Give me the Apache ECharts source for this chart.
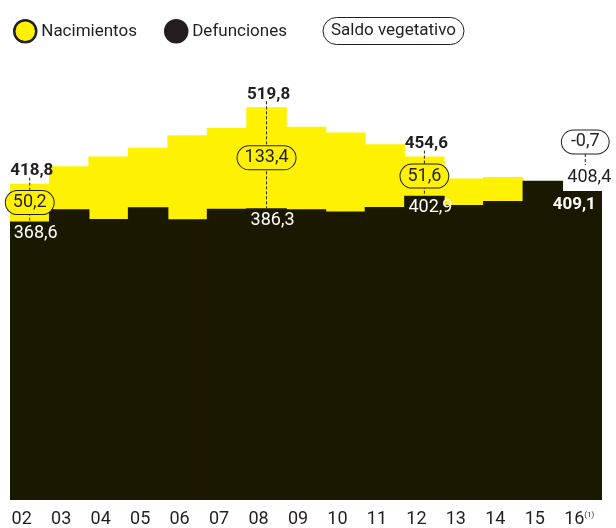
<!DOCTYPE html>
<html>
<head>
<meta charset="utf-8">
<script src="https://cdn.jsdelivr.net/npm/echarts@6/dist/echarts.min.js"></script>
<style>
  html, body { margin: 0; padding: 0; background: #fff; }
  #chart { width: 616px; height: 528px; }
</style>
</head>
<body>
<div id="chart"></div>
<script>
var myChart = echarts.init(document.getElementById('chart'));

let years = ['02', '03', '04', '05', '06', '07', '08', '09', '10', '11', '12', '13', '14', '15', '16'];
let nacimientos = [418.8, 441.9, 454.6, 466.4, 482.9, 492.5, 519.8, 494.0, 486.6, 471.0, 454.6, 425.7, 427.6, 420.3, 408.4];
let defunciones = [368.6, 384.8, 371.9, 387.4, 371.5, 385.4, 386.3, 384.9, 382.0, 387.9, 402.9, 390.4, 395.8, 422.6, 409.1];
// years with call-outs and their saldo vegetativo
let saldoYears = ['02', '08', '12', '16'];
let saldo = [50.2, 133.4, 51.6, -0.7];

let yellow = '#fff200';
let dark = '#1b1800';
let ink = '#231f20';
let font = 'Roboto';

const fmt = v => v.toFixed(1).replace('.', ',');

let saldoData = saldoYears.map((y, k) => {
	let i = years.indexOf(y);
	return [y, nacimientos[i], defunciones[i], saldo[k]];
});

function label(text, x, y, opts) {
	return {
		type: 'text',
		x: x,
		y: y,
		z2: 10,
		style: Object.assign({
			text: text,
			fontFamily: font,
			fontSize: 18,
			fill: ink,
			align: 'center'
		}, opts)
	};
}

function renderSaldo(params, api) {
	let b = api.value(1), d = api.value(2), s = api.value(3);
	let x = api.coord([api.value(0), 0])[0];
	let yB = api.coord([api.value(0), b])[1];
	let yD = api.coord([api.value(0), d])[1];
	let children = [];
	if (s > 0) {
		children.push({
			type: 'line',
			shape: { x1: x, y1: yB - 6, x2: x, y2: yD },
			style: { stroke: ink, lineWidth: 1, lineDash: [3, 2] }
		});
		children.push(label(fmt(s), x, (yB + yD) / 2, {
			verticalAlign: 'middle', backgroundColor: yellow,
			borderColor: ink, borderWidth: 1, borderRadius: 12, padding: [3, 7, 2, 7]
		}));
		children.push(label(fmt(b), x + 2, yB - 4, {
			verticalAlign: 'bottom', fontWeight: b > d ? 'bold' : 'normal', fontSize: 17
		}));
		children.push(label(fmt(d), x + 6, yD + 3, {
			verticalAlign: 'top', fill: '#fff', fontWeight: d > b ? 'bold' : 'normal'
		}));
	} else {
		let yTop = Math.min(yB, yD);
		children.push({
			type: 'line',
			shape: { x1: x + 3, y1: yTop - 37, x2: x + 3, y2: yTop - 26 },
			style: { stroke: ink, lineWidth: 1, lineDash: [3, 2] }
		});
		children.push(label(fmt(s), x + 3, yTop - 49, {
			verticalAlign: 'middle', backgroundColor: '#fff',
			borderColor: ink, borderWidth: 1, borderRadius: 12, padding: [3, 9, 2, 9]
		}));
		children.push(label(fmt(b), x + 7, yTop - 4, {
			verticalAlign: 'bottom', fontWeight: b > d ? 'bold' : 'normal'
		}));
		children.push(label(fmt(d), x - 8, yTop + 5, {
			verticalAlign: 'top', fill: '#fff', fontWeight: d > b ? 'bold' : 'normal', fontSize: 17
		}));
	}
	return { type: 'group', children: children };
}

option = {
	animation: false,
	color: [yellow, dark],
	legend: [{
		left: 8,
		top: 14,
		icon: 'circle',
		itemWidth: 22,
		itemHeight: 22,
		itemGap: 27,
		textStyle: { color: ink, fontSize: 17, fontFamily: font },
		data: [{
				name: 'Nacimientos',
				itemStyle: { color: yellow, borderColor: ink, borderWidth: 2.5 }
			},
			{
				name: 'Defunciones',
				itemStyle: { color: ink, borderColor: ink, borderWidth: 2.5 }
			}
		]
	}, {
		left: 313,
		top: 12,
		icon: 'none',
		itemWidth: 0,
		itemHeight: 10,
		textStyle: {
			color: ink, fontSize: 17, fontFamily: font,
			borderColor: ink, borderWidth: 1, borderRadius: 14, padding: [5, 8, 5, 8]
		},
		data: ['Saldo vegetativo']
	}],
	grid: {
		left: 10,
		right: 14,
		top: 80,
		bottom: 28
	},
	xAxis: {
		type: 'category',
		data: years,
		axisLine: { show: false },
		axisTick: { show: false },
		axisLabel: {
			margin: 10,
			interval: 0,
			formatter: function(v) {
				return v === '16' ? '{b|16}{s|(1)}' : '{a|' + v + '}';
			},
			rich: {
				a: { fontSize: 18, fontFamily: font, color: ink, padding: [0, 16, 0, 0] },
				b: { fontSize: 18, fontFamily: font, color: ink },
				s: { fontSize: 8, fontFamily: font, color: ink, padding: [0, 6, 9, 0] }
			}
		}
	},
	yAxis: {
		type: 'value',
		min: 0,
		max: 556,
		show: false
	},
	series: [{
		name: 'Nacimientos',
		type: 'bar',
		barWidth: 40.5,
		barGap: '-100%',
		itemStyle: { color: yellow },
		data: nacimientos
	}, {
		name: 'Defunciones',
		type: 'bar',
		barWidth: 40.5,
		barGap: '-100%',
		itemStyle: { color: dark },
		data: defunciones
	}, {
		name: 'Saldo vegetativo',
		type: 'custom',
		z: 10,
		renderItem: renderSaldo,
		encode: { x: 0, y: [1, 2] },
		data: saldoData
	}]
};
myChart.setOption(option);
</script>
</body>
</html>
